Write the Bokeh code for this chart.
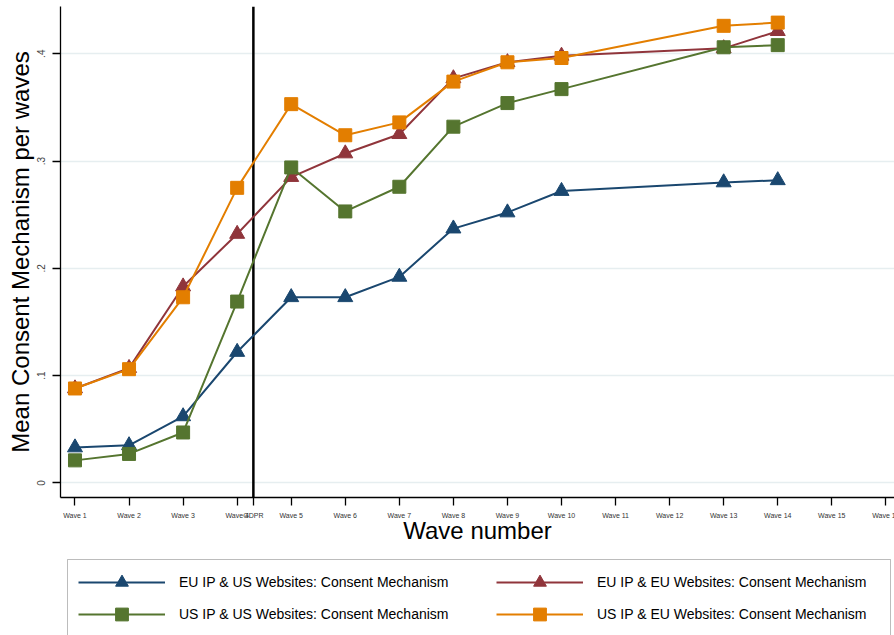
from bokeh.plotting import figure
from bokeh.layouts import column
from bokeh.models import Range1d, FixedTicker, Legend, LegendItem, Span, BoxAnnotation
from bokeh.embed import file_html
from bokeh.resources import INLINE

# Survey waves with observations (no data for waves 11 and 12)
waves = [1, 2, 3, 4, 5, 6, 7, 8, 9, 10, 13, 14]

# Mean share of websites showing a consent mechanism, per wave
eu_ip_us_sites = [0.033, 0.035, 0.062, 0.122, 0.173, 0.173, 0.192, 0.237, 0.252, 0.272, 0.280, 0.282]
eu_ip_eu_sites = [0.088, 0.107, 0.183, 0.232, 0.285, 0.307, 0.325, 0.377, 0.392, 0.398, 0.405, 0.421]
us_ip_us_sites = [0.021, 0.027, 0.047, 0.169, 0.294, 0.253, 0.276, 0.332, 0.354, 0.367, 0.406, 0.408]
us_ip_eu_sites = [0.088, 0.106, 0.173, 0.275, 0.353, 0.324, 0.336, 0.374, 0.392, 0.396, 0.426, 0.429]

series_labels = [
    "EU IP & US Websites: Consent Mechanism",
    "EU IP & EU Websites: Consent Mechanism",
    "US IP & US Websites: Consent Mechanism",
    "US IP & EU Websites: Consent Mechanism",
]

# Axis ticks
tick_waves = list(range(1, 17))
tick_labels = [f"Wave {w}" for w in tick_waves]
gdpr_wave = 4.3
gdpr_label = "GDPR"
y_ticks = [0, 0.1, 0.2, 0.3, 0.4]
y_tick_labels = ["0", ".1", ".2", ".3", ".4"]

FONT = "Liberation Sans"
NAVY, MAROON, GREEN, ORANGE = "#1a476f", "#90353b", "#55752f", "#e37e00"
styles = [
    (eu_ip_us_sites, NAVY, "triangle", 15),
    (eu_ip_eu_sites, MAROON, "triangle", 15),
    (us_ip_us_sites, GREEN, "square", 13),
    (us_ip_eu_sites, ORANGE, "square", 13),
]

# ---------------- main chart ----------------
p = figure(
    width=894, height=550,
    x_range=Range1d(0.732, 16.16), y_range=Range1d(-0.0136, 0.444),
    output_backend="svg", toolbar_location=None,
    min_border_left=60, min_border_right=0, min_border_top=6, min_border_bottom=53,
)
p.outline_line_color = None
p.background_fill_color = "white"
p.border_fill_color = "white"

p.xgrid.visible = False
p.ygrid.grid_line_color = "#e6eef0"
p.ygrid.grid_line_width = 1.5

# x axis: one tick per wave plus the GDPR date
xaxis = p.xaxis[0]
xaxis.ticker = FixedTicker(ticks=tick_waves + [gdpr_wave], minor_ticks=[])
overrides = {w: lab for w, lab in zip(tick_waves, tick_labels)}
overrides[gdpr_wave] = gdpr_label
xaxis.major_label_overrides = overrides
xaxis.major_label_text_font = FONT
xaxis.major_label_text_font_size = "7px"
xaxis.major_label_text_color = "#333333"
xaxis.major_label_standoff = 6
xaxis.major_tick_out = 8
xaxis.major_tick_in = 0
xaxis.axis_line_width = 1.3
xaxis.major_tick_line_width = 1.3
xaxis.axis_label = "Wave number"
xaxis.axis_label_text_font = FONT
xaxis.axis_label_text_font_style = "normal"
xaxis.axis_label_text_font_size = "24px"
xaxis.axis_label_text_color = "black"
xaxis.axis_label_standoff = -5

# y axis
yaxis = p.yaxis[0]
yaxis.ticker = FixedTicker(ticks=y_ticks, minor_ticks=[])
yaxis.major_label_overrides = {v: lab for v, lab in zip(y_ticks, y_tick_labels)}
yaxis.major_label_orientation = "vertical"
yaxis.major_label_text_font = FONT
yaxis.major_label_text_font_size = "10px"
yaxis.major_label_text_color = "#444444"
yaxis.major_label_standoff = 7
yaxis.major_tick_out = 8
yaxis.major_tick_in = 0
yaxis.axis_line_width = 1.3
yaxis.major_tick_line_width = 1.3
yaxis.axis_label = "Mean Consent Mechanism per waves"
yaxis.axis_label_text_font = FONT
yaxis.axis_label_text_font_style = "normal"
yaxis.axis_label_text_font_size = "24px"
yaxis.axis_label_text_color = "black"
yaxis.axis_label_standoff = 1

# GDPR reference line
p.add_layout(Span(location=gdpr_wave, dimension="height", line_color="black",
                  line_width=2.5, level="underlay"))

for vals, color, marker, size in styles:
    p.line(waves, vals, line_color=color, line_width=2)
    p.scatter(waves, vals, marker=marker, size=size, fill_color=color, line_color=color)

# ---------------- legend strip ----------------
# The strip's frame is aligned with the chart's frame (x from 60 to 894 px),
# so its ranges are set to pixel units of the page.
leg = figure(
    width=894, height=85, x_range=Range1d(60, 894), y_range=Range1d(0, 85),
    output_backend="svg", toolbar_location=None, min_border=0,
    x_axis_type=None, y_axis_type=None,
)
leg.outline_line_color = None
leg.border_fill_color = "white"
leg.background_fill_color = "white"

leg.add_layout(BoxAnnotation(left=67, right=890, top=76, bottom=-10,
                             fill_color="white", fill_alpha=1.0,
                             line_color="#222222", line_width=1))

# Stand-in renderers (kept outside the visible strip) that provide legend glyphs
items = []
for label, (vals, color, marker, size) in zip(series_labels, styles):
    ln = leg.line([-500, -400], [-500, -500], line_color=color, line_width=2)
    sc = leg.scatter([-450], [-500], marker=marker, size=size, fill_color=color, line_color=color)
    items.append(LegendItem(label=label, renderers=[ln, sc]))

legend_style = dict(
    glyph_width=87, glyph_height=32, label_standoff=14, spacing=0,
    padding=0, margin=0, border_line_alpha=0, background_fill_alpha=0,
    label_text_font=FONT, label_text_font_size="14px", label_text_color="black",
)
leg.add_layout(Legend(items=[items[0], items[2]], location=(18, 5.5), **legend_style), "center")
leg.add_layout(Legend(items=[items[1], items[3]], location=(436, 5.5), **legend_style), "center")

open("out.html", "w").write(file_html(column(p, leg), INLINE))
